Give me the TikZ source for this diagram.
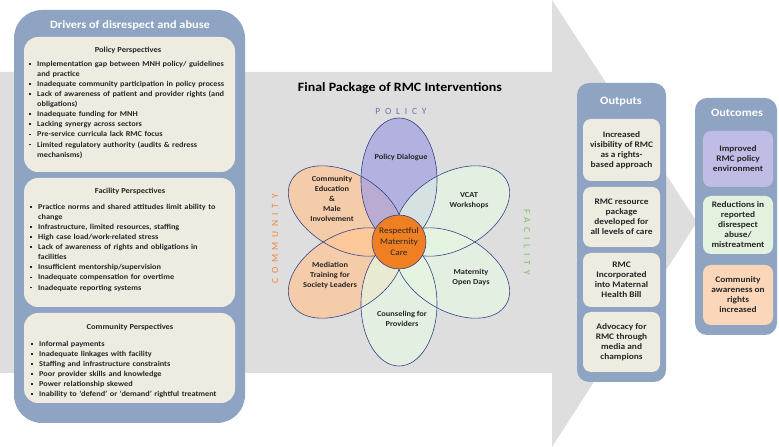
\documentclass[tikz,border=0pt]{standalone}
\usepackage{fontspec}
\setmainfont{Carlito}[FakeStretch=1.1]
\newfontfamily\spacedfont{Carlito}[LetterSpace=50]

\definecolor{panelblue}{HTML}{8EA4C2}
\definecolor{cream}{HTML}{EEEBE0}
\definecolor{arrowgray}{HTML}{DEDEDE}
\definecolor{textdark}{HTML}{262626}
\definecolor{petalline}{HTML}{34438A}
\definecolor{polfill}{RGB}{161,159,226}
\definecolor{comfill}{RGB}{255,197,147}
\definecolor{facfill}{RGB}{230,247,226}
\definecolor{rmcorange}{HTML}{F07F22}
\definecolor{polword}{HTML}{6E72AC}
\definecolor{comword}{HTML}{F0883A}
\definecolor{facword}{HTML}{7DC05B}
\definecolor{outpol}{HTML}{BFBDE6}
\definecolor{outfac}{HTML}{E3F1DF}
\definecolor{outcom}{HTML}{FCD6B9}

\newcommand{\itm}[1]{\par\hangindent=8pt\hangafter=1\noindent\makebox[8pt][l]{\rule[1.6pt]{1.8pt}{1.8pt}}#1}

\tikzset{
  panel/.style={fill=panelblue, inner sep=0},
  card/.style={fill=cream, rounded corners=14pt, inner sep=0},
  smallcard/.style={rounded corners=8pt, inner sep=0, align=center, text=textdark,
    font=\bfseries\fontsize{8.5}{10}\selectfont},
  panelhead/.style={text=white, font=\bfseries\fontsize{11.2}{13}\selectfont},
  cardhead/.style={text=textdark, font=\bfseries\fontsize{7.7}{9}\selectfont},
  itemlist/.style={anchor=north west, inner sep=0, text width=210pt, text=textdark,
    font=\bfseries\fontsize{7.5}{10.1}\selectfont},
  petaltext/.style={align=center, text=textdark, font=\bfseries\fontsize{7.6}{10}\selectfont},
  sideword/.style={font=\spacedfont\fontsize{9.5}{11}\selectfont}
}

\begin{document}
\begin{tikzpicture}[x=1pt, y=1pt]
    \useasboundingbox (0,0) rectangle (779,447);

    % 背景の矢印
    \fill[arrowgray] (0,74) -- (552,74) -- (552,0) -- (697,225) -- (552,447) -- (552,375) -- (0,375) -- cycle;

    % 左のパネル
    \node[panel, rounded corners=28pt, minimum width=231, minimum height=413] (drivers) at (129.5,230.5) {};
    \node[panelhead] (drivershead) at (130,422) {Drivers of disrespect and abuse};

    \node[card, minimum width=211, minimum height=135] (policycard) at (129.5,342.5) {};
    \node[card, minimum width=211, minimum height=129] (facilitycard) at (129.5,204.5) {};
    \node[card, minimum width=211, minimum height=90] (communitycard) at (129.5,89) {};

    \node[cardhead] (policyhead) at (128,397) {Policy Perspectives};
    \node[cardhead] (facilityhead) at (130,256) {Facility Perspectives};
    \node[cardhead] (communityhead) at (130,120) {Community Perspectives};

    \node[itemlist] (policylist) at (29,391) {\raggedright
      \itm{Implementation gap between MNH policy/ guidelines\newline and practice}
      \itm{Inadequate community participation in policy process}
      \itm{Lack of awareness of patient and provider rights (and\newline obligations)}
      \itm{Inadequate funding for MNH}
      \itm{Lacking synergy across sectors}
      \itm{Pre-service curricula lack RMC focus}
      \itm{Limited regulatory authority (audits \& redress\newline mechanisms)}\par};
    \node[itemlist] (facilitylist) at (30,248) {\raggedright
      \itm{Practice norms and shared attitudes limit ability to\newline change}
      \itm{Infrastructure, limited resources, staffing}
      \itm{High case load/work-related stress}
      \itm{Lack of awareness of rights and obligations in\newline facilities}
      \itm{Insufficient mentorship/supervision}
      \itm{Inadequate compensation for overtime}
      \itm{Inadequate reporting systems}\par};
    \node[itemlist] (communitylist) at (31,111) {\raggedright
      \itm{Informal payments}
      \itm{Inadequate linkages with facility}
      \itm{Staffing and infrastructure constraints}
      \itm{Poor provider skills and knowledge}
      \itm{Power relationship skewed}
      \itm{Inability to `defend' or `demand' rightful treatment}\par};

    % 花びら
    \foreach \ang/\col in {150/comfill, 210/comfill, 90/polfill, 30/facfill, 330/facfill, 270/facfill}
      \fill[\col, fill opacity=0.7, shift={(399,205)}, rotate=\ang] (62,0) ellipse [x radius=62, y radius=38];
    \foreach \ang in {150, 210, 90, 30, 330, 270}
      \draw[petalline, line width=0.6pt, shift={(399,205)}, rotate=\ang] (62,0) ellipse [x radius=62, y radius=38];

    % 中心
    \node[circle, fill=rmcorange, draw=petalline, line width=0.6pt, minimum size=54, inner sep=0,
      align=center, text=textdark, font=\fontsize{8.5}{11}\selectfont] (rmc) at (399,205) {Respectful\\Maternity\\Care};

    % ラベル
    \node[text=black, font=\bfseries\fontsize{12.7}{14}\selectfont] (title) at (400,359) {Final Package of RMC Interventions};
    \node[sideword, text=polword] (policyword) at (401,336) {POLICY};
    \node[sideword, text=comword, rotate=90] (communityword) at (275,208) {COMMUNITY};
    \node[sideword, text=facword, rotate=-90] (facilityword) at (527,205) {FACILITY};

    \node[petaltext] (dialogue) at (401,290) {Policy Dialogue};
    \node[petaltext] (education) at (332,248) {Community\\Education\\\&\\Male\\Involvement};
    \node[petaltext] (vcat) at (469,246) {VCAT\\Workshops};
    \node[petaltext] (mediation) at (330,172) {Mediation\\Training for\\Society Leaders};
    \node[petaltext] (opendays) at (471,170) {Maternity\\Open Days};
    \node[petaltext] (counseling) at (402,128) {Counseling for\\Providers};

    % 出力
    \node[panel, rounded corners=12pt, minimum width=89, minimum height=299] (outputs) at (621.5,214.5) {};
    \node[panelhead] (outputshead) at (621,345) {Outputs};
    \node[smallcard, fill=cream, minimum width=77, minimum height=62] (out1) at (621.5,297) {Increased\\visibility of RMC\\as a rights-\\based approach};
    \node[smallcard, fill=cream, minimum width=77, minimum height=60] (out2) at (621.5,230) {RMC resource\\package\\developed for\\all levels of care};
    \node[smallcard, fill=cream, minimum width=77, minimum height=54] (out3) at (621.5,167) {RMC\\Incorporated\\into Maternal\\Health Bill};
    \node[smallcard, fill=cream, minimum width=77, minimum height=60] (out4) at (621.5,105) {Advocacy for\\RMC through\\media and\\champions};

    % 成果
    \node[panel, rounded corners=12pt, minimum width=82, minimum height=237] (outcomes) at (736,230.5) {};
    \node[panelhead] (outcomeshead) at (737,334) {Outcomes};
    \node[smallcard, fill=outpol, minimum width=70, minimum height=56] (res1) at (738,288) {Improved\\RMC policy\\environment};
    \node[smallcard, fill=outfac, minimum width=70, minimum height=58] (res2) at (738,222) {Reductions in\\reported\\disrespect\\abuse/\\mistreatment};
    \node[smallcard, fill=outcom, minimum width=70, minimum height=60] (res3) at (738,152) {Community\\awareness on\\rights\\increased};
  \end{tikzpicture}
\end{document}
